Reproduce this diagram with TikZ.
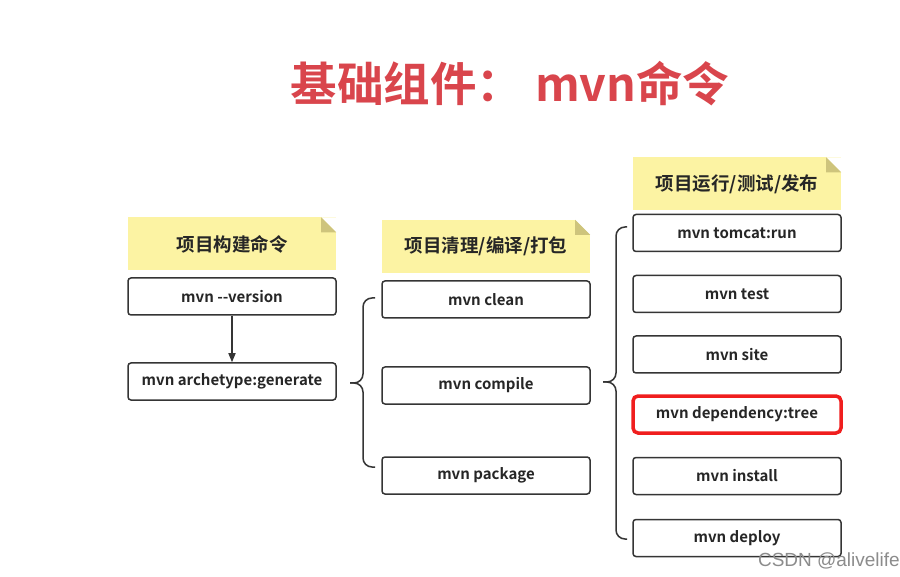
\documentclass[tikz,border=0pt]{standalone}
\usepackage{fontspec}
\setmainfont{Noto Sans CJK SC}
\newfontfamily\cjkb{Noto Sans CJK SC Bold}
\usetikzlibrary{arrows.meta}
\definecolor{titlered}{HTML}{D9454C}
\definecolor{noteyellow}{HTML}{FCF3A3}
\definecolor{notefold}{HTML}{CEC47C}
\definecolor{boxline}{HTML}{353535}
\definecolor{hired}{HTML}{F01E1E}
\tikzset{
  cmdbox/.style={draw=boxline, line width=1.5pt, rounded corners=3pt, fill=white,
    minimum width=208pt, minimum height=37pt, inner sep=0pt,
    font=\cjkb\fontsize{15}{17}\selectfont, text=black!85},
  notebox/.style={fill=noteyellow, minimum width=208pt, minimum height=53pt, inner sep=0pt,
    font=\cjkb\fontsize{18.5}{20}\selectfont, text=black!85},
  bracel/.style={draw=boxline, line width=1.5pt, rounded corners=9pt},
  arr/.style={draw=boxline, line width=1.5pt, -{Triangle[length=9pt,width=7pt]}}
}
\newcommand{\foldcorner}[1]{%
  \fill[white] (#1.north east) -- ++(-15,0) -- ++(15,15) -- cycle;
  \fill[notefold] (#1.north east) ++(-15,0) -- ++(0,15) -- ++(15,0) -- cycle;}
\begin{document}
\begin{tikzpicture}[x=1pt,y=-1pt]
\useasboundingbox[fill=white] (0,0) rectangle (900,577);
% title
\node[font=\cjkb\fontsize{46.5}{50}\selectfont, text=titlered, inner sep=0pt] (title) at (510,84) {基础组件：\hspace{12pt}mvn命令};
% column 1
\node[notebox] (n1) at (232,244) {项目构建命令};
\foldcorner{n1}
\node[cmdbox] (c1a) at (232,296.5) {mvn --version};
\node[cmdbox] (c1b) at (232,381.5) {mvn archetype:generate};
\draw[arr] (c1a) -- (c1b);
% column 2
\node[notebox] (n2) at (486,246.5) {项目清理/编译/打包};
\foldcorner{n2}
\node[cmdbox] (c2a) at (486,299.5) {mvn clean};
\node[cmdbox] (c2b) at (486,385.5) {mvn compile};
\node[cmdbox] (c2c) at (486,475.5) {mvn package};
\draw[bracel] (375,298) -- (363,298) -- (363,383) -- (350,383);
\draw[bracel] (375,467) -- (363,467) -- (363,383) -- (350,383);
% column 3
\node[notebox] (n3) at (737,184) {项目运行/测试/发布};
\foldcorner{n3}
\node[cmdbox] (c3a) at (737,233) {mvn tomcat:run};
\node[cmdbox] (c3b) at (737,294) {mvn test};
\node[cmdbox] (c3c) at (737,354.5) {mvn site};
\node[cmdbox, draw=hired, line width=3.5pt, rounded corners=5pt] (c3d) at (737,414.5) {mvn dependency:tree};
\node[cmdbox] (c3e) at (737,476) {mvn install};
\node[cmdbox] (c3f) at (737,538) {mvn deploy};
\draw[bracel] (627,227) -- (616,227) -- (616,382) -- (603,382);
\draw[bracel] (627,539) -- (616,539) -- (616,382) -- (603,382);
% watermark
\node[font=\fontspec{Liberation Sans}\fontsize{19}{21}\selectfont, text=black!45, anchor=east, inner sep=0pt] (wm) at (900,561) {CSDN @alivelife};
\end{tikzpicture}
\end{document}
